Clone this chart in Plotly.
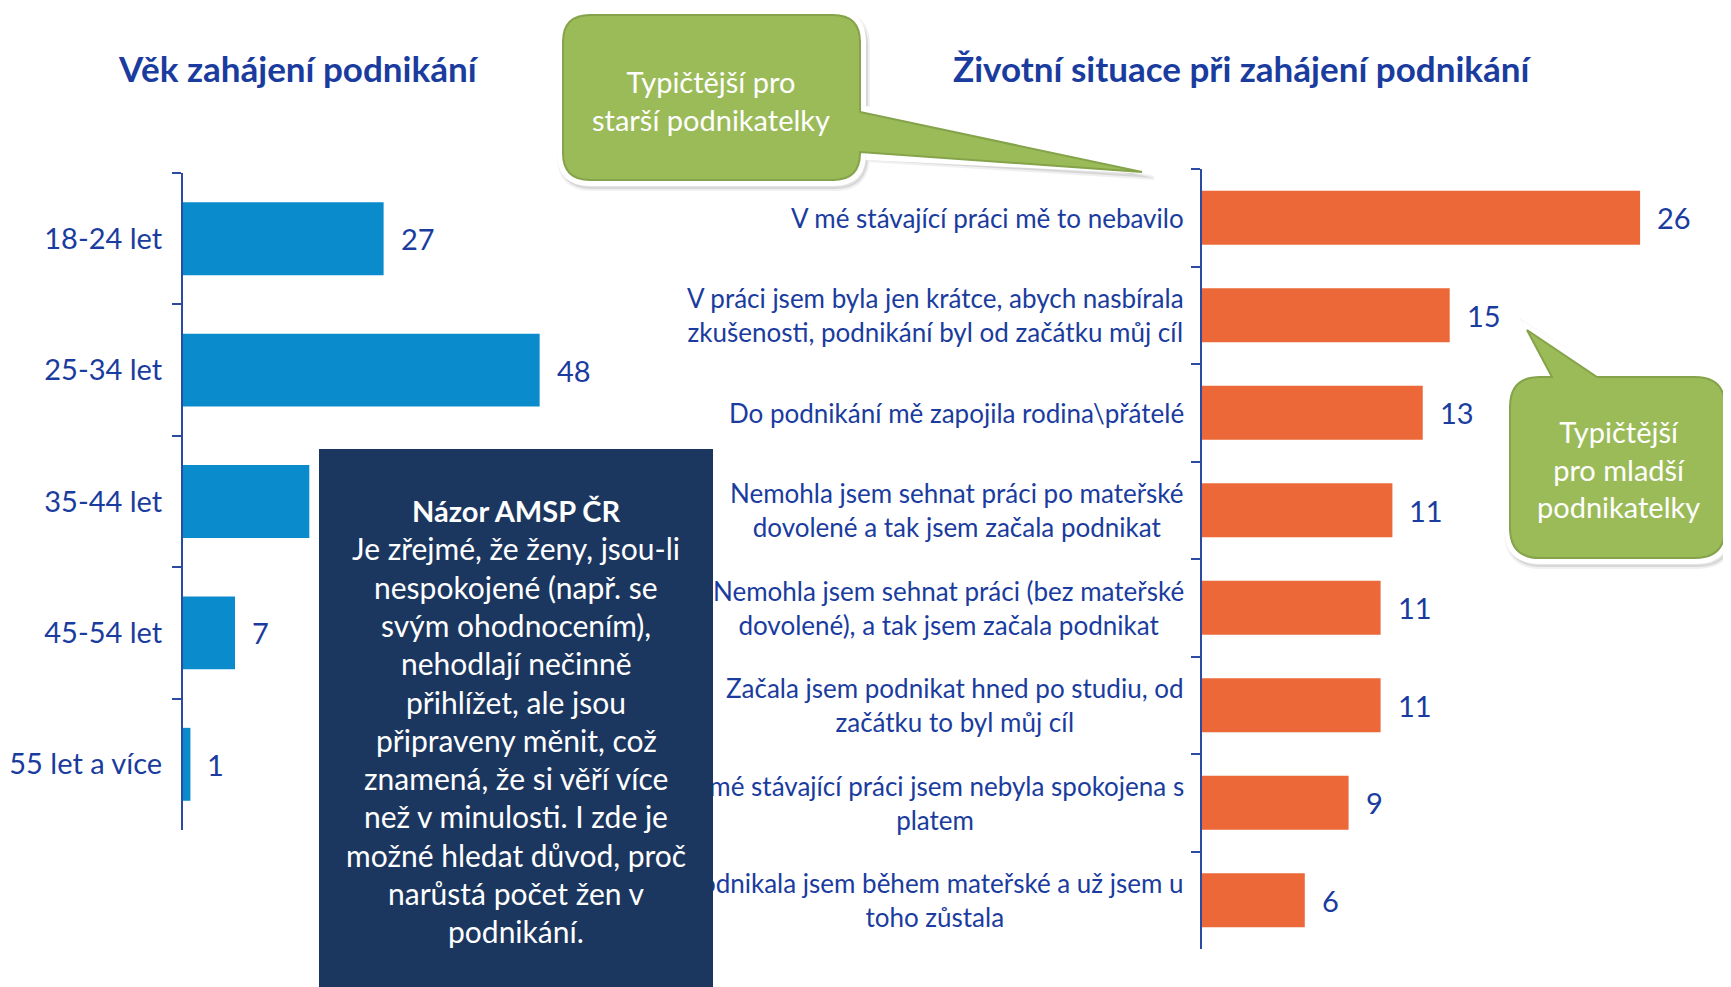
import plotly.graph_objects as go

# the page body adds an 8px margin, so the figure is offset and sized to fit the window
PAGE_W, PAGE_H = 1731, 987
OFF = 8
W, H = PAGE_W - OFF, PAGE_H - OFF

BLUE_TEXT = "#1A3C9E"
AXIS_BLUE = "#2B4BA3"
BAR_BLUE = "#0A8BCB"
BAR_ORANGE = "#EC6838"
GREEN = "#9BBB59"
GREEN_RIM = "#84A34A"
NAVY = "#1C375F"
FONT = "Lato, 'Open Sans', sans-serif"

age_groups = ["18-24 let", "25-34 let", "35-44 let", "45-54 let", "55 let a více"]
age_values = [27, 48, 17, 7, 1]

situations = [
    "V mé stávající práci mě to nebavilo",
    "V práci jsem byla jen krátce, abych nasbírala<br>zkušenosti, podnikání byl od začátku můj cíl",
    "Do podnikání mě zapojila rodina\\přátelé",
    "Nemohla jsem sehnat práci po mateřské<br>dovolené a tak jsem začala podnikat",
    "Nemohla jsem sehnat práci (bez mateřské<br>dovolené), a tak jsem začala podnikat",
    "Začala jsem podnikat hned po studiu, od<br>začátku to byl můj cíl",
    "V mé stávající práci jsem nebyla spokojena s<br>platem",
    "Podnikala jsem během mateřské a už jsem u<br>toho zůstala",
]
situation_values = [26.0, 14.7, 13.1, 11.3, 10.6, 10.6, 8.7, 6.1]

titles = ["Věk zahájení podnikání", "Životní situace při zahájení podnikání"]
opinion_title = "Názor AMSP ČR"
opinion_lines = [
    "Je zřejmé, že ženy, jsou-li",
    "nespokojené (např. se",
    "svým ohodnocením),",
    "nehodlají nečinně",
    "přihlížet, ale jsou",
    "připraveny měnit, což",
    "znamená, že si věří více",
    "než v minulosti. I zde je",
    "možné hledat důvod, proč",
    "narůstá počet žen v",
    "podnikání.",
]
callout_older = "Typičtější pro<br>starší podnikatelky"
callout_younger = "Typičtější<br>pro mladší<br>podnikatelky"


def px(x):
    return (x - OFF) / W


def py(y):
    return 1 - (y - OFF) / H


def rounded_path(x0, y0, x1, y1, r, right_tip=None, top_tip=None):
    # rounded box in page pixels with an optional pointer, returned in paper coords
    pts = [f"M{px(x0 + r)},{py(y0)}"]
    if top_tip:
        a, (tx, ty), b = top_tip
        pts += [f"L{px(a)},{py(y0)}", f"L{px(tx)},{py(ty)}", f"L{px(b)},{py(y0)}"]
    pts += [f"L{px(x1 - r)},{py(y0)}", f"Q{px(x1)},{py(y0)} {px(x1)},{py(y0 + r)}"]
    if right_tip:
        a, (tx, ty), b = right_tip
        pts += [f"L{px(x1)},{py(a)}", f"L{px(tx)},{py(ty)}", f"L{px(x1)},{py(b)}"]
    pts += [
        f"L{px(x1)},{py(y1 - r)}", f"Q{px(x1)},{py(y1)} {px(x1 - r)},{py(y1)}",
        f"L{px(x0 + r)},{py(y1)}", f"Q{px(x0)},{py(y1)} {px(x0)},{py(y1 - r)}",
        f"L{px(x0)},{py(y0 + r)}", f"Q{px(x0)},{py(y0)} {px(x0 + r)},{py(y0)}", "Z",
    ]
    return " ".join(pts)


fig = go.Figure()

fig.add_trace(go.Bar(
    x=age_values, y=age_groups, orientation="h",
    marker={"color": BAR_BLUE, "line": {"width": 0}},
    xaxis="x", yaxis="y", hoverinfo="skip",
))
fig.add_trace(go.Bar(
    x=situation_values, y=situations, orientation="h",
    marker={"color": BAR_ORANGE, "line": {"width": 0}},
    xaxis="x2", yaxis="y2", hoverinfo="skip",
))

axis_common = dict(
    type="category", showline=True, linecolor=AXIS_BLUE, linewidth=2,
    ticks="outside", tickson="boundaries", ticklen=9, tickwidth=2, tickcolor=AXIS_BLUE,
    showgrid=False, zeroline=False,
)

fig.update_layout(
    width=W, height=H,
    margin={"l": 0, "r": 0, "t": 0, "b": 0},
    paper_bgcolor="white", plot_bgcolor="rgba(0,0,0,0)",
    showlegend=False, bargap=0.445,
    font={"family": FONT, "color": BLUE_TEXT},
    xaxis={"domain": [px(183), px(183 + 50 * 7.43)], "range": [0, 50], "visible": False},
    yaxis={**axis_common, "domain": [py(830), py(173)], "anchor": "x",
           "range": [len(age_groups) - 0.5, -0.5],
           "tickfont": {"size": 29, "color": BLUE_TEXT, "family": FONT},
           "ticklabelstandoff": 13},
    xaxis2={"domain": [px(1202), px(1202 + 30 * 16.85)], "range": [0, 30], "visible": False,
            "anchor": "y2"},
    yaxis2={**axis_common, "domain": [py(949), py(169)], "anchor": "x2",
            "range": [len(situations) - 0.5, -0.5], "showticklabels": False},
)

annotations = []


def centered(text, x, y, size, color, **kw):
    return dict(text=text, x=px(x), y=py(y), xref="paper", yref="paper",
                xanchor="center", yanchor="middle", showarrow=False,
                font={"size": size, "color": color, "family": FONT}, **kw)


for t, cx in zip(titles, [298, 1242]):
    annotations.append(centered(f"<b>{t}</b>", cx, 68, 35, BLUE_TEXT))

for v, c in zip(age_values, age_groups):
    annotations.append(dict(
        text=f"{round(v)}", x=v, y=c, xref="x", yref="y", xanchor="left", yanchor="middle",
        xshift=15, showarrow=False, font={"size": 29, "color": BLUE_TEXT, "family": FONT},
    ))

for v, c in zip(situation_values, situations):
    annotations.append(dict(
        text=f"{round(v)}", x=v, y=c, xref="x2", yref="y2", xanchor="left", yanchor="middle",
        xshift=15, showarrow=False, font={"size": 29, "color": BLUE_TEXT, "family": FONT},
    ))
    annotations.append(dict(
        text=c, x=px(1186), y=c, xref="paper", yref="y2", xanchor="right", yanchor="middle",
        align="center", showarrow=False, font={"size": 26, "color": BLUE_TEXT, "family": FONT},
    ))

# dark opinion box, drawn over the right-hand category labels
annotations.append(dict(
    text=" ", x=px(319), y=py(449), xref="paper", yref="paper", xanchor="left", yanchor="top",
    width=394, height=560, bgcolor=NAVY, borderpad=0, borderwidth=0, showarrow=False,
))
annotations.append(centered(f"<b>{opinion_title}</b>", 516, 510, 29, "white"))
for i, line in enumerate(opinion_lines):
    annotations.append(centered(line, 516, 548.3 + 38.3 * i, 30, "white"))

annotations.append(centered(callout_older, 711, 100, 29, "white", align="center"))
annotations.append(centered(callout_younger, 1618, 469, 29, "white", align="center"))

# speech-bubble callouts: soft shadow, white rim, green body
older = dict(x0=563, y0=15, x1=860, y1=180, r=27)
younger = dict(x0=1510, y0=377, x1=1725, y1=558, r=30)

shapes = []
shadow_paths = [
    rounded_path(older["x0"] - 4, older["y0"] - 2, older["x1"] + 8, older["y1"] + 9, older["r"] + 6,
                 right_tip=(112, (1154, 178), 160)),
    rounded_path(younger["x0"] - 4, younger["y0"] - 2, younger["x1"] + 8, younger["y1"] + 9,
                 younger["r"] + 6, top_tip=(1552, (1525, 324), 1606)),
]
rim_paths = [
    rounded_path(older["x0"] - 6, older["y0"] - 6, older["x1"] + 6, older["y1"] + 6, older["r"] + 6,
                 right_tip=(106, (1152, 174), 160)),
    rounded_path(younger["x0"] - 6, younger["y0"] - 6, younger["x1"] + 6, younger["y1"] + 6,
                 younger["r"] + 6, top_tip=(1546, (1521, 320), 1604)),
]
body_paths = [
    rounded_path(older["x0"], older["y0"], older["x1"], older["y1"], older["r"],
                 right_tip=(112, (1142, 172), 152)),
    rounded_path(younger["x0"], younger["y0"], younger["x1"], younger["y1"], younger["r"],
                 top_tip=(1552, (1527, 330), 1597)),
]
for p in shadow_paths:
    shapes.append(dict(type="path", path=p, xref="paper", yref="paper", layer="above",
                       fillcolor="rgba(0,0,0,0.10)", line={"color": "rgba(0,0,0,0.06)", "width": 4}))
for p in rim_paths:
    shapes.append(dict(type="path", path=p, xref="paper", yref="paper", layer="above",
                       fillcolor="white", line={"width": 0}))
for p in body_paths:
    shapes.append(dict(type="path", path=p, xref="paper", yref="paper", layer="above",
                       fillcolor=GREEN, line={"color": GREEN_RIM, "width": 2}))

fig.update_layout(annotations=annotations, shapes=shapes)

fig.write_html("out.html")
